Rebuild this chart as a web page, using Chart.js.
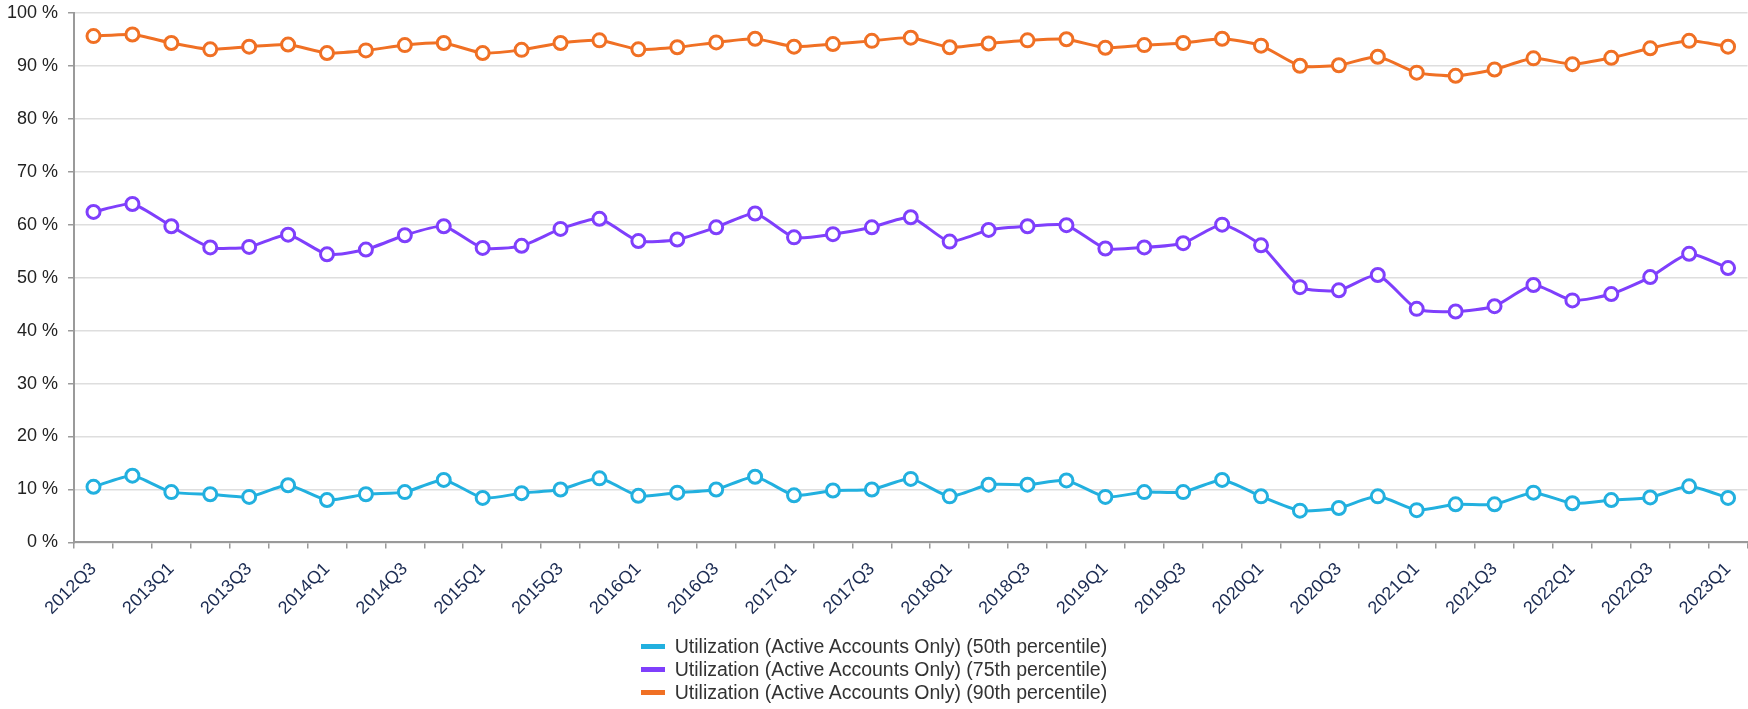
<!DOCTYPE html>
<html>
<head>
<meta charset="utf-8">
<script src="https://cdn.jsdelivr.net/npm/chart.js@4.4.1/dist/chart.umd.min.js"></script>
<style>
  html, body { margin: 0; padding: 0; background: #fff; }
  #wrap { position: relative; width: 1748px; height: 709px; overflow: hidden; }
  /* canvas is a bit larger than the page so the plot can reach the top and right edges */
  #chart { position: absolute; left: 0; top: -8px; }
  #legend {
    position: absolute; left: 0; top: 635px; width: 1748px;
    display: flex; justify-content: center;
    font-family: "Liberation Sans", Arial, sans-serif; font-size: 19.5px; color: #333;
  }
  #legend ul { list-style: none; margin: 0; padding: 0; }
  #legend li { display: flex; align-items: center; height: 23px; }
  #legend .box { width: 24px; height: 5px; margin-right: 10px; }
</style>
</head>
<body>
<div id="wrap">
  <canvas id="chart" width="1757" height="717"></canvas>
  <div id="legend"></div>
</div>
<script>
const quarters = [
  '2012Q3', '2012Q4', '2013Q1', '2013Q2', '2013Q3', '2013Q4', '2014Q1', '2014Q2', '2014Q3', '2014Q4',
  '2015Q1', '2015Q2', '2015Q3', '2015Q4', '2016Q1', '2016Q2', '2016Q3', '2016Q4', '2017Q1', '2017Q2',
  '2017Q3', '2017Q4', '2018Q1', '2018Q2', '2018Q3', '2018Q4', '2019Q1', '2019Q2', '2019Q3', '2019Q4',
  '2020Q1', '2020Q2', '2020Q3', '2020Q4', '2021Q1', '2021Q2', '2021Q3', '2021Q4', '2022Q1', '2022Q2',
  '2022Q3', '2022Q4', '2023Q1'
];

// percent values
const p50 = [10.5, 12.6, 9.5, 9.1, 8.6, 10.8, 8.0, 9.1, 9.5, 11.8, 8.4, 9.3, 10.0, 12.1, 8.8, 9.4, 10.0, 12.4, 8.9, 9.8,
  10.0, 12.0, 8.7, 10.9, 10.9, 11.7, 8.6, 9.5, 9.5, 11.8, 8.7, 6.0, 6.5, 8.7, 6.1, 7.2, 7.2, 9.4, 7.4, 8.0, 8.5, 10.6, 8.4];
const p75 = [62.4, 63.9, 59.7, 55.7, 55.8, 58.1, 54.4, 55.3, 58.0, 59.7, 55.6, 56.0, 59.2, 61.1, 56.9, 57.2, 59.5, 62.1, 57.6, 58.2,
  59.5, 61.4, 56.8, 59.0, 59.7, 59.9, 55.5, 55.7, 56.5, 60.0, 56.1, 48.2, 47.6, 50.5, 44.1, 43.6, 44.6, 48.6, 45.7, 46.9, 50.1, 54.5, 51.8];
const p90 = [95.6, 95.9, 94.3, 93.1, 93.6, 94.0, 92.4, 92.9, 93.9, 94.3, 92.4, 93.0, 94.3, 94.8, 93.1, 93.5, 94.4, 95.1, 93.6, 94.1,
  94.7, 95.3, 93.5, 94.2, 94.8, 95.0, 93.4, 93.9, 94.3, 95.1, 93.8, 90.0, 90.1, 91.7, 88.7, 88.1, 89.3, 91.4, 90.3, 91.5, 93.3, 94.7, 93.6];

const seriesNames = [
  'Utilization (Active Accounts Only) (50th percentile)',
  'Utilization (Active Accounts Only) (75th percentile)',
  'Utilization (Active Accounts Only) (90th percentile)'
];
const seriesColors = ['#22b0df', '#7f3ffc', '#f07024'];
const yTicks = [0, 10, 20, 30, 40, 50, 60, 70, 80, 90, 100];

const FONT = '"Liberation Sans", Arial, sans-serif';

function lineSet(i, values) {
  return {
    label: seriesNames[i],
    data: values,
    borderColor: seriesColors[i],
    backgroundColor: seriesColors[i],
    borderWidth: 3,
    pointRadius: 6.5,
    pointBorderWidth: 3,
    pointBackgroundColor: '#fff',
    pointBorderColor: seriesColors[i],
    tension: 0.2,
    fill: false
  };
}

const chart = new Chart(document.getElementById('chart'), {
  type: 'line',
  data: {
    labels: quarters,
    datasets: [lineSet(0, p50), lineSet(1, p75), lineSet(2, p90)]
  },
  options: {
    responsive: false,
    animation: false,
    layout: { padding: { top: 0, right: 0, bottom: 80, left: -3 } },
    plugins: { legend: { display: false }, tooltip: { enabled: false } },
    scales: {
      x: {
        offset: true,
        grid: { display: true, drawOnChartArea: false, drawTicks: true, tickLength: 6, color: '#9a9a9a', lineWidth: 1.5, offset: true },
        border: { display: true, color: '#9a9a9a', width: 2 },
        ticks: {
          autoSkip: false,
          minRotation: 45,
          maxRotation: 45,
          padding: 10,
          color: '#1b2b52',
          font: { family: FONT, size: 18 },
          callback: function (v, i) { return i % 2 === 0 ? quarters[i] : ''; }
        }
      },
      y: {
        min: 0,
        max: 100,
        afterBuildTicks: function (axis) { axis.ticks = yTicks.map(v => ({ value: v })); },
        grid: { color: '#dedede', lineWidth: 1.5, tickLength: 6, tickColor: '#9a9a9a', tickWidth: 1.5 },
        border: { display: true, color: '#9a9a9a', width: 2 },
        ticks: {
          padding: 10,
          color: '#222',
          font: { family: FONT, size: 18 },
          callback: function (v) { return v + ' %'; }
        }
      }
    }
  }
});

// legend stacked in three rows under the chart
const ul = document.createElement('ul');
chart.data.datasets.forEach(ds => {
  const li = document.createElement('li');
  const box = document.createElement('span');
  box.className = 'box';
  box.style.background = ds.borderColor;
  const txt = document.createElement('span');
  txt.textContent = ds.label;
  li.appendChild(box);
  li.appendChild(txt);
  ul.appendChild(li);
});
document.getElementById('legend').appendChild(ul);
</script>
</body>
</html>
